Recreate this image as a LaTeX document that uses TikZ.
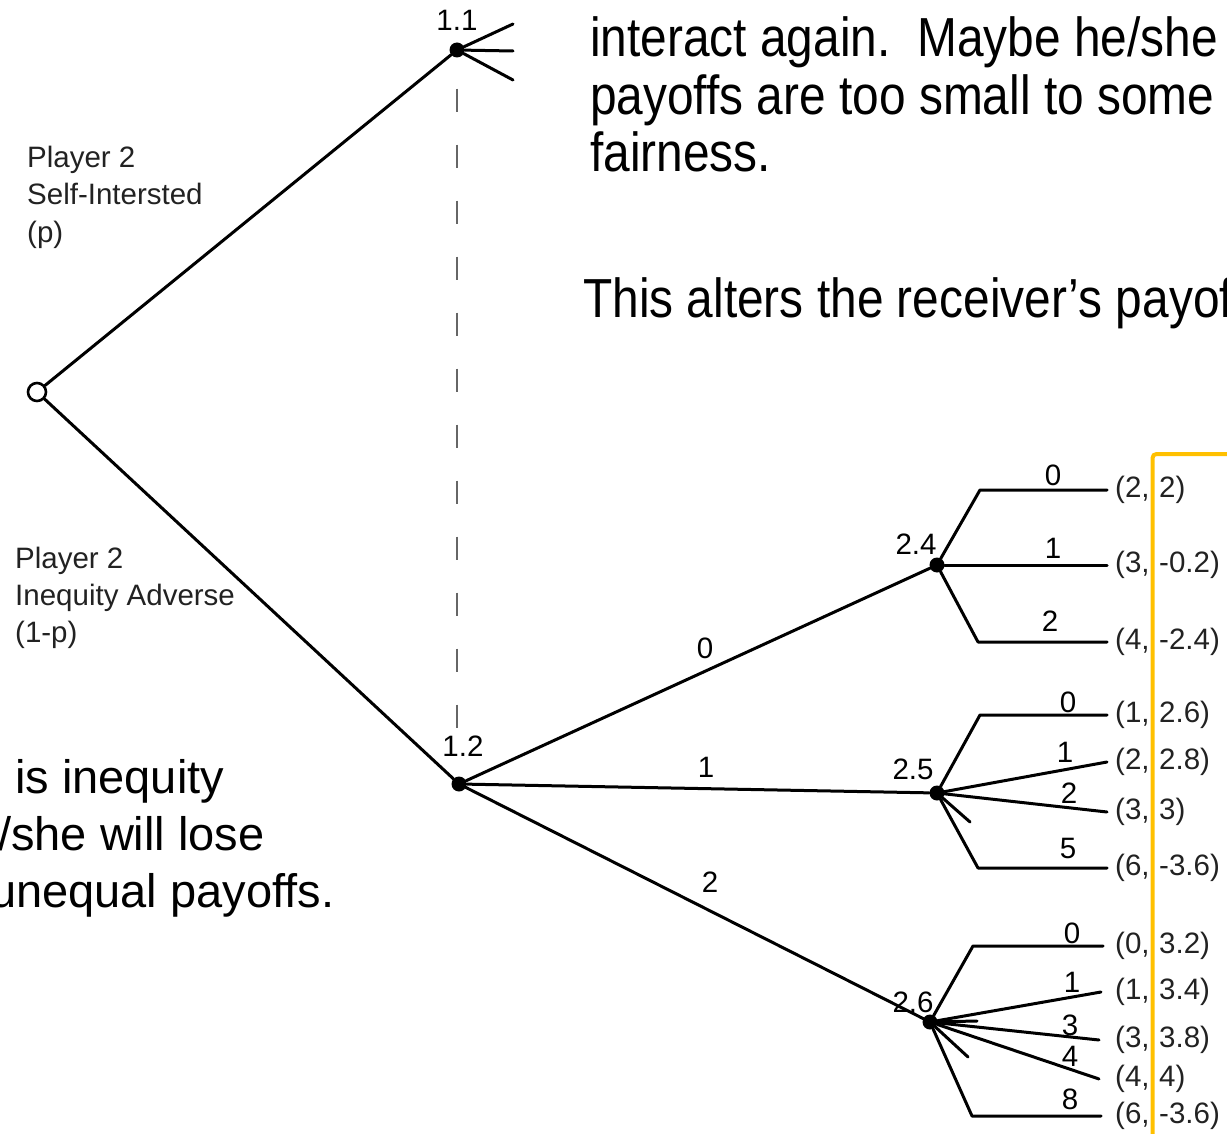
\documentclass[tikz,border=0pt]{standalone}
\usepackage{fontspec}
\setmainfont{Liberation Sans}
\newfontfamily\slidefont[FakeStretch=0.87]{Liberation Sans}
\definecolor{gold}{HTML}{FFC000}
\definecolor{inkgray}{HTML}{222222}
% payoff pair with the second entry in its own column
\newcommand{\pv}[2]{\makebox[44pt][l]{(#1,}#2)}

\begin{document}
\begin{tikzpicture}[x=1pt,y=-1pt,
  edge/.style={line width=3pt, line join=round, line cap=round},
  dashline/.style={line width=2pt, draw=black!60, dash pattern=on 23pt off 33pt, dash phase=25pt},
  dot/.style={circle, fill=black, minimum size=15pt, inner sep=0pt},
  chance/.style={circle, draw=black, fill=white, line width=2.6pt, minimum size=18pt, inner sep=0pt},
  lbl/.style={font=\fontsize{29.5}{32}\selectfont, inner sep=0pt},
  side/.style={font=\fontsize{29.5}{32}\selectfont, anchor=base west, inner sep=0pt, text=inkgray},
  pay/.style={font=\fontsize{29.5}{32}\selectfont, anchor=west, inner xsep=8pt, inner ysep=0pt, text=inkgray},
  slide/.style={font=\slidefont\fontsize{55}{57}\selectfont, anchor=base west, inner sep=0pt},
  note/.style={font=\fontsize{47}{57}\selectfont, anchor=base west, inner sep=0pt},
  goldline/.style={draw=gold, line width=4pt, rounded corners=4pt},
]
\useasboundingbox (0,0) rectangle (1227,1134);
\clip (0,0) rectangle (1227,1134);

% slide text around the tree
\node[slide] (t1) at (590,57) {interact again.\ \ Maybe he/she};
\node[slide] (t2) at (590,115) {payoffs are too small to some};
\node[slide] (t3) at (590,172) {fairness.};
\node[slide] (t4) at (583,317) {This alters the receiver’s payof};
\node[note] (b1) at (15,793) {is inequity};
\node[note] (b2) at (-2,850) {/she will lose};
\node[note] (b3) at (-10,907) {unequal payoffs.};

% player-type labels
\node[side] (s1) at (27,168) {Player 2};
\node[side] (s2) at (27,205) {Self-Intersted};
\node[side] (s3) at (27,243) {(p)};
\node[side] (s4) at (15,568) {Player 2};
\node[side] (s5) at (15,605) {Inequity Adverse};
\node[side] (s6) at (15,642) {(1-p)};

% decision nodes
\node[chance] (root) at (37,392) {};
\node[dot] (n11) at (457,50) {};
\node[dot] (n12) at (459,784) {};
\node[dot] (n24) at (937,565) {};
\node[dot] (n25) at (937,793) {};
\node[dot] (n26) at (930,1022) {};

\node[lbl, anchor=base] (l11) at (457,31) {1.1};
\node[lbl, anchor=base] (l12) at (463,756) {1.2};
\node[lbl, anchor=base] (l24) at (916,554) {2.4};
\node[lbl, anchor=base] (l25) at (913,779) {2.5};
\node[lbl, anchor=base] (l26) at (913,1012) {2.6};

% information set
\draw[dashline] (n11.south) -- (n11.south |- l12.north);

% nature's move
\draw[edge] (root) -- (n11);
\draw[edge] (root) -- (n12);

% branches of 1.1
\coordinate (a1) at (513,24);
\coordinate (a2) at (513,51);
\coordinate (a3) at (513,80);
\draw[edge] (n11) -- (a1);
\draw[edge] (n11) -- (a2);
\draw[edge] (n11) -- (a3);

% offers at 1.2
\draw[edge] (n12) -- (n24);
\draw[edge] (n12) -- (n25);
\draw[edge] (n12) -- (n26);
\node[lbl] (e0) at (705,648) {0};
\node[lbl] (e1) at (706,767) {1};
\node[lbl] (e2) at (710,882) {2};

% payoffs
\node[pay] (p24a) at (1107,490) {\pv{2}{2}};
\node[pay] (p24b) at (1107,565) {\pv{3}{-0.2}};
\node[pay] (p24c) at (1107,642) {\pv{4}{-2.4}};
\node[pay] (p25a) at (1107,715) {\pv{1}{2.6}};
\node[pay] (p25b) at (1107,762) {\pv{2}{2.8}};
\node[pay] (p25c) at (1107,812) {\pv{3}{3}};
\node[pay] (p25d) at (1107,868) {\pv{6}{-3.6}};
\node[pay] (p26a) at (1103,946) {\hspace{4pt}\pv{0}{3.2}};
\node[pay] (p26b) at (1101,992) {\hspace{6pt}\pv{1}{3.4}};
\node[pay] (p26c) at (1099,1040) {\hspace{8pt}\pv{3}{3.8}};
\node[pay] (p26d) at (1099,1079) {\hspace{8pt}\pv{4}{4}};
\node[pay] (p26e) at (1101,1116) {\hspace{6pt}\pv{6}{-3.6}};

% responses at 2.4
\coordinate (k24a) at (980,490);
\coordinate (k24c) at (978,642);
\draw[edge] (n24) -- (k24a) -- (p24a.west);
\draw[edge] (n24) -- (p24b.west);
\draw[edge] (n24) -- (k24c) -- (p24c.west);
\node[lbl] (r240) at (1053,475) {0};
\node[lbl] (r241) at (1053,548) {1};
\node[lbl] (r242) at (1050,621) {2};

% responses at 2.5
\coordinate (k25a) at (980,715);
\coordinate (k25s) at (970,822);
\coordinate (k25d) at (978,868);
\draw[edge] (n25) -- (k25a) -- (p25a.west);
\draw[edge] (n25) -- (p25b.west);
\draw[edge] (n25) -- (p25c.west);
\draw[edge] (n25) -- (k25s);
\draw[edge] (n25) -- (k25d) -- (p25d.west);
\node[lbl] (r250) at (1068,702) {0};
\node[lbl] (r251) at (1065,752) {1};
\node[lbl] (r252) at (1069,793) {2};
\node[lbl] (r255) at (1068,848) {5};

% responses at 2.6
\coordinate (k26a) at (973,946);
\coordinate (k26s1) at (977,1021);
\coordinate (k26s2) at (968,1057);
\coordinate (k26e) at (972,1116);
\draw[edge] (n26) -- (k26a) -- (p26a.west);
\draw[edge] (n26) -- (p26b.west);
\draw[edge] (n26) -- (k26s1);
\draw[edge] (n26) -- (p26c.west);
\draw[edge] (n26) -- (p26d.west);
\draw[edge] (n26) -- (k26s2);
\draw[edge] (n26) -- (k26e) -- (p26e.west);
\node[lbl] (r260) at (1072,933) {0};
\node[lbl] (r261) at (1072,982) {1};
\node[lbl] (r263) at (1070,1025) {3};
\node[lbl] (r264) at (1070,1056) {4};
\node[lbl] (r268) at (1070,1099) {8};

% highlight frame
\coordinate (g0) at (1152.5,1140);
\coordinate (g1) at (1232,454);
\draw[goldline] (g0) |- (g1);
\end{tikzpicture}
\end{document}
